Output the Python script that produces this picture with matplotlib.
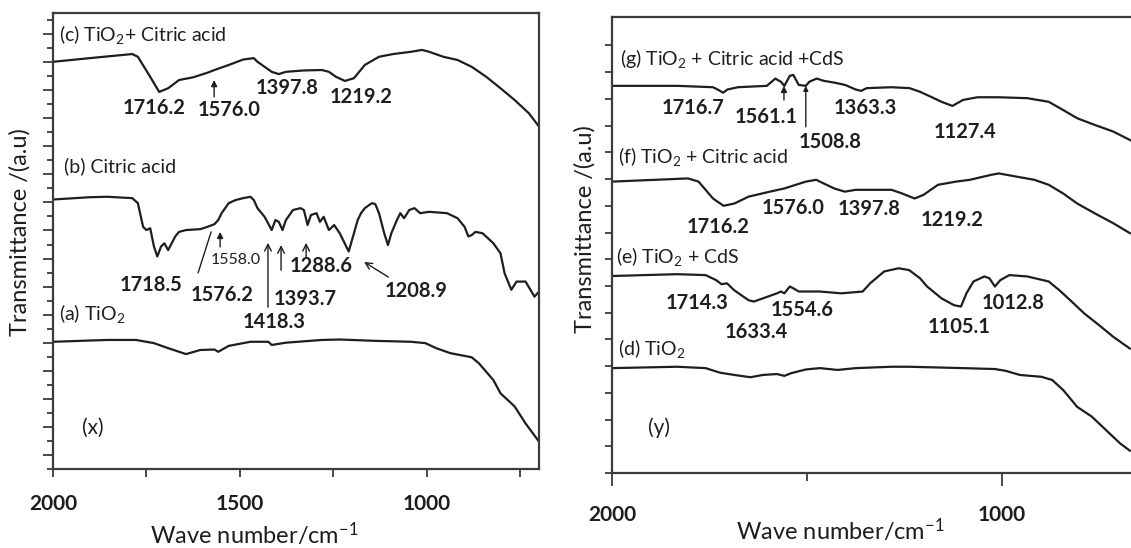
import matplotlib
matplotlib.use('Agg')
import matplotlib.pyplot as plt

plt.rcParams['font.family'] = ['Lato', 'DejaVu Sans']
plt.rcParams['mathtext.fontset'] = 'custom'
plt.rcParams['mathtext.rm'] = 'Lato'
plt.rcParams['mathtext.it'] = 'Lato:italic'
plt.rcParams['mathtext.bf'] = 'Lato:bold'

INK = '#1e1e1e'
SPINE = '#3c3c3c'

# ---------- panel (x) ----------
wn_c = [2000, 1902, 1788, 1773, 1740, 1716, 1692, 1663, 1625, 1587, 1568, 1530, 1491, 1463,
        1453, 1415, 1396, 1377, 1329, 1281, 1262, 1243, 1219, 1195, 1166, 1128, 1090, 1042,
        1013, 994, 956, 918, 880, 841, 803, 765, 727, 700]
tr_c = [89.3, 90.1, 91.0, 90.4, 86.0, 82.7, 83.5, 85.3, 85.9, 86.9, 87.5, 88.6, 89.8, 90.1,
        89.3, 87.1, 86.6, 87.1, 87.4, 87.5, 87.1, 86.0, 85.1, 85.7, 88.6, 90.4, 91.0, 91.5,
        91.9, 91.5, 90.4, 89.7, 88.2, 86.0, 83.5, 80.9, 78.0, 75.1]

wn_b = [2000, 1902, 1855, 1788, 1773, 1759, 1750, 1740, 1730, 1721, 1711, 1702, 1692, 1673,
        1663, 1644, 1606, 1587, 1568, 1558, 1549, 1530, 1511, 1491, 1472, 1463, 1453, 1434,
        1415, 1405, 1396, 1386, 1377, 1358, 1338, 1329, 1319, 1310, 1295, 1286, 1276, 1262,
        1248, 1233, 1209, 1195, 1185, 1176, 1166, 1147, 1138, 1128, 1114, 1104, 1095, 1080,
        1071, 1061, 1047, 1033, 1018, 994, 946, 918, 899, 889, 880, 870, 851, 822, 803, 792,
        774, 760, 736, 712, 700]
tr_b = [59.1, 59.6, 59.7, 59.4, 58.3, 53.1, 52.4, 52.8, 48.8, 46.6, 48.8, 49.5, 48.0, 51.0,
        52.0, 52.4, 52.6, 53.1, 53.7, 54.6, 56.1, 58.3, 59.0, 59.4, 59.7, 59.0, 57.2, 55.3,
        52.4, 54.6, 54.2, 52.4, 54.6, 56.8, 57.2, 56.8, 53.5, 55.7, 56.1, 54.2, 55.3, 52.4,
        53.5, 51.7, 47.7, 51.7, 54.6, 56.1, 57.2, 58.3, 58.1, 56.1, 51.7, 49.1, 51.7, 54.6,
        56.1, 55.0, 56.8, 57.2, 56.1, 56.4, 56.1, 55.0, 53.1, 51.0, 51.3, 52.0, 51.7, 49.5,
        47.3, 42.9, 39.3, 41.1, 41.1, 37.8, 38.9]

wn_a = [2000, 1855, 1778, 1730, 1692, 1644, 1606, 1568, 1558, 1530, 1472, 1424, 1415, 1377,
        1281, 1233, 1138, 1042, 1004, 975, 937, 880, 861, 822, 803, 765, 736, 700]
tr_a = [27.9, 28.3, 28.3, 27.6, 26.5, 25.2, 26.1, 26.2, 25.7, 27.0, 27.9, 27.9, 27.2, 27.7,
        28.3, 28.4, 28.1, 27.9, 27.6, 26.5, 25.4, 24.5, 23.2, 19.5, 16.6, 13.7, 10.0, 6.0]

# ---------- panel (y) ----------
wn_g = [2000, 1832, 1741, 1727, 1715, 1704, 1677, 1603, 1581, 1567, 1558, 1544, 1535, 1521,
        1503, 1494, 1475, 1457, 1429, 1402, 1375, 1361, 1347, 1283, 1237, 1210, 1182, 1155,
        1127, 1100, 1063, 1008, 935, 880, 843, 807, 761, 715, 671]
tr_g = [84.9, 84.9, 84.6, 84.0, 83.4, 84.1, 84.6, 84.9, 86.5, 85.8, 84.9, 87.1, 87.3, 85.1,
        84.9, 85.8, 86.5, 86.0, 85.6, 85.1, 84.1, 83.8, 84.4, 84.6, 84.4, 83.6, 82.5, 81.4,
        80.5, 81.8, 82.4, 82.4, 82.2, 81.4, 79.6, 77.8, 76.3, 74.9, 73.0]

wn_f = [2000, 1805, 1778, 1741, 1714, 1686, 1650, 1595, 1558, 1503, 1476, 1467, 1430, 1403,
        1375, 1329, 1283, 1256, 1224, 1201, 1164, 1118, 1082, 1027, 1008, 963, 917, 880, 843,
        807, 761, 715, 672]
tr_f = [63.9, 64.6, 63.9, 60.2, 58.6, 59.1, 60.6, 61.7, 62.4, 63.9, 64.3, 63.9, 62.4, 61.7,
        62.1, 62.1, 62.1, 61.3, 60.2, 61.0, 63.2, 63.9, 64.3, 65.4, 65.7, 65.0, 64.3, 63.2,
        61.3, 59.1, 56.9, 54.8, 52.6]

wn_e = [2000, 1833, 1760, 1733, 1719, 1705, 1687, 1650, 1636, 1613, 1577, 1567, 1558, 1544,
        1535, 1521, 1467, 1412, 1357, 1338, 1302, 1265, 1238, 1210, 1192, 1155, 1123, 1105,
        1091, 1073, 1045, 1032, 1018, 1004, 981, 935, 880, 853, 825, 789, 752, 715, 672]
tr_e = [43.2, 43.6, 43.4, 42.3, 41.4, 41.6, 40.1, 37.9, 37.6, 38.3, 39.4, 39.8, 39.4, 40.9,
        40.5, 39.8, 39.8, 39.4, 39.8, 41.6, 44.2, 44.9, 44.5, 42.7, 40.9, 38.3, 36.8, 36.5,
        39.4, 42.0, 43.1, 42.7, 40.9, 42.3, 43.4, 43.1, 42.0, 40.1, 37.9, 35.0, 32.5, 29.9, 27.3]

wn_d = [2000, 1833, 1760, 1723, 1686, 1645, 1613, 1577, 1558, 1540, 1503, 1467, 1421, 1375,
        1283, 1238, 1192, 1100, 1018, 990, 954, 899, 871, 843, 807, 770, 733, 697, 672]
tr_d = [23.0, 23.3, 23.0, 22.0, 21.5, 21.0, 21.5, 21.7, 21.3, 21.9, 22.7, 23.0, 22.6, 23.0,
        23.3, 23.3, 23.2, 23.0, 22.8, 22.4, 21.5, 21.1, 20.4, 18.2, 14.5, 12.4, 9.4, 6.5, 4.9]

# panel names and peak labels: (text, x, y)
names_x = [('(c) TiO$_2$+ Citric acid', 1984, 95.2), ('(b) Citric acid', 1971, 66.4),
           ('(a) TiO$_2$', 1984, 34.2)]
peaks_x = [('1716.2', 1730, 79.2), ('1576.0', 1529, 78.7), ('1397.8', 1374, 83.6),
           ('1219.2', 1176, 81.6), ('1718.5', 1738, 40.4), ('1576.2', 1548, 38.2),
           ('1393.7', 1325, 37.3), ('1418.3', 1408, 32.2), ('1288.6', 1283, 44.5),
           ('1208.9', 1028, 39.0)]
names_y = [('(g) TiO$_2$ + Citric acid +CdS', 1979, 91.0), ('(f) TiO$_2$ + Citric acid', 1985, 69.3),
           ('(e) TiO$_2$ + CdS', 1990, 47.4), ('(d) TiO$_2$', 1985, 27.2)]
peaks_y = [('1716.7', 1792, 80.0), ('1561.1', 1605, 78.0), ('1508.8', 1441, 72.6),
           ('1363.3', 1349, 80.0), ('1127.4', 1095, 74.8), ('1716.2', 1728, 54.0),
           ('1576.0', 1536, 58.1), ('1397.8', 1341, 57.9), ('1219.2', 1128, 55.5),
           ('1714.3', 1782, 37.3), ('1554.6', 1513, 35.7), ('1633.4', 1631, 30.9),
           ('1105.1', 1110, 32.0), ('1012.8', 972, 37.3)]

fig = plt.figure(figsize=(11.31, 5.48), dpi=100)
axx = fig.add_axes([53 / 1131, 79 / 548, 486 / 1131, 456 / 548])
axy = fig.add_axes([612 / 1131, 75 / 548, 519 / 1131, 456 / 548])


def arrow(ax, head, tail, style='-|>', scale=9):
    ax.annotate('', xy=head, xytext=tail,
                arrowprops=dict(arrowstyle=style, mutation_scale=scale, lw=1.0,
                                color=INK, shrinkA=0, shrinkB=0))


for ax in (axx, axy):
    ax.set_ylim(0, 100)
    for s in ax.spines.values():
        s.set_color(SPINE)
        s.set_linewidth(1.6)
    ax.tick_params(axis='x', which='major', direction='out', length=6, width=1.3,
                   color=SPINE, labelsize=15, pad=12, labelcolor=INK)
    ax.tick_params(axis='x', which='minor', direction='out', length=6, width=1.3, color=SPINE)
    ax.tick_params(axis='y', which='both', direction='out', width=1.3, color=SPINE,
                   labelleft=False)
    for lab in ax.get_xticklabels():
        lab.set_fontweight('bold')

# left panel
axx.plot(wn_c, tr_c, color=INK, lw=1.6)
axx.plot(wn_b, tr_b, color=INK, lw=1.6)
axx.plot(wn_a, tr_a, color=INK, lw=1.6)
axx.set_xlim(2000, 700)
axx.set_xticks([2000, 1500, 1000])
axx.set_xticks([1750, 1250, 750], minor=True)
step = 3.077
axx.set_yticks([k * step for k in range(1, 33, 2)])
axx.set_yticks([k * step for k in range(0, 33, 2)], minor=True)
axx.tick_params(axis='y', which='major', length=7)
axx.tick_params(axis='y', which='minor', length=4)
axx.set_xticklabels(['2000', '1500', '1000'], fontweight='bold')

for t, x, y in names_x:
    axx.text(x, y, t, fontsize=14, ha='left', va='center', color=INK)
for t, x, y in peaks_x:
    axx.text(x, y, t, fontsize=14.5, fontweight='bold', ha='center', va='center', color=INK)
axx.text(1510, 45.8, '1558.0', fontsize=11.5, ha='center', va='center', color=INK)
axx.text(1893, 9.0, '(x)', fontsize=15, ha='center', va='center', color=INK)
arrow(axx, (1569, 85.3), (1569, 81.6))
arrow(axx, (1553, 52.0), (1553, 48.7))
arrow(axx, (1577, 52.0), (1612, 43.0), style='-')
arrow(axx, (1425, 49.6), (1425, 35.5), style='->', scale=12)
arrow(axx, (1390, 49.1), (1390, 43.6), style='->', scale=12)
arrow(axx, (1323, 49.6), (1323, 46.5), style='->', scale=12)
arrow(axx, (1168, 45.4), (1103, 42.1), style='->', scale=12)

# right panel
axy.plot(wn_g, tr_g, color=INK, lw=1.6)
axy.plot(wn_f, tr_f, color=INK, lw=1.6)
axy.plot(wn_e, tr_e, color=INK, lw=1.6)
axy.plot(wn_d, tr_d, color=INK, lw=1.6)
axy.set_xlim(2000, 669)
axy.set_xticks([2000, 1000])
axy.set_xticks([1500], minor=True)
axy.set_xticklabels(['2000', '1000'], fontweight='bold')
axy.tick_params(axis='x', which='major', length=9, pad=14)
axy.tick_params(axis='x', which='minor', length=6)
axy.spines['right'].set_visible(False)
step_r = 5.86
axy.set_yticks([k * step_r for k in range(0, 17)])
axy.tick_params(axis='y', which='major', length=5)

for t, x, y in names_y:
    axy.text(x, y, t, fontsize=14, ha='left', va='center', color=INK)
for t, x, y in peaks_y:
    axy.text(x, y, t, fontsize=14.5, fontweight='bold', ha='center', va='center', color=INK)
axy.text(1880, 9.9, '(y)', fontsize=15, ha='center', va='center', color=INK)
arrow(axy, (1559, 84.9), (1559, 81.8))
arrow(axy, (1503, 84.9), (1503, 75.9), scale=7)

# axis titles
fig.text(20 / 1131, 1 - 232 / 548, 'Transmittance /(a.u)', rotation=90, fontsize=17,
         ha='center', va='center', color=INK)
fig.text(585 / 1131, 1 - 229 / 548, 'Transmittance /(a.u)', rotation=90, fontsize=17,
         ha='center', va='center', color=INK)
fig.text(254 / 1131, 4 / 548, 'Wave number/cm$^{-1}$', fontsize=17, ha='center',
         va='baseline', color=INK)
fig.text(840 / 1131, 8 / 548, 'Wave number/cm$^{-1}$', fontsize=17, ha='center',
         va='baseline', color=INK)

fig.savefig('out.png', dpi=100, facecolor='white')
